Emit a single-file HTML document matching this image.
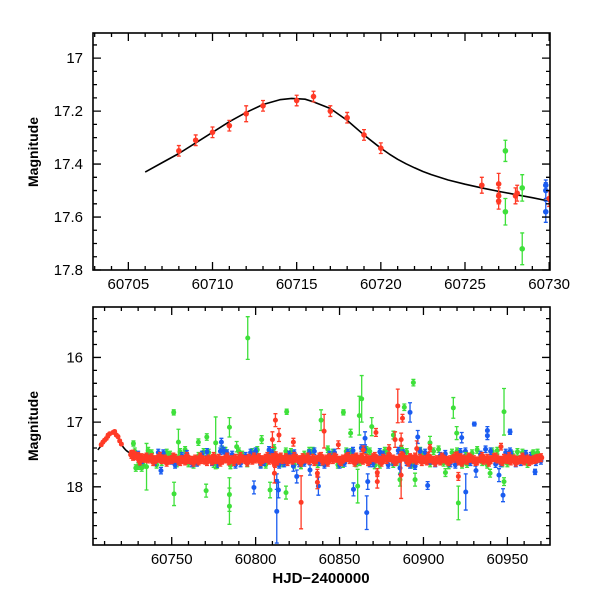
<!DOCTYPE html>
<html><head><meta charset="utf-8"><style>
html,body{margin:0;padding:0;background:#fff;}
svg text{font-family:"Liberation Sans",sans-serif;}
</style></head><body>
<svg id="chart" width="600" height="600" viewBox="0 0 600 600" xmlns="http://www.w3.org/2000/svg">
<rect width="600" height="600" fill="#fff"/>
</svg>
<script>
// ---------- data ----------
const topXTicks = [60705,60710,60715,60720,60725,60730];
const topYTicks = [17,17.2,17.4,17.6,17.8];
const topYTickLabels = ["17","17.2","17.4","17.6","17.8"];
const botXTicks = [60750,60800,60850,60900,60950];
const botYTicks = [16,17,18];
const botYTickLabels = ["16","17","18"];

const modelDays = [60706,60707,60708,60709,60710,60711,60712,60713,60714,60714.7,60715.5,60716,60717,60718,60719,60720,60720.5,60721,60721.5,60722,60722.5,60723,60724,60725,60726,60727,60728,60729,60730];
const modelMags = [17.43,17.395,17.36,17.32,17.28,17.24,17.205,17.175,17.157,17.152,17.155,17.165,17.19,17.235,17.29,17.34,17.362,17.382,17.399,17.414,17.428,17.44,17.46,17.476,17.49,17.503,17.515,17.527,17.54];

const redEarlyDays = [60708,60709,60710,60711,60712,60713,60715,60716,60717,60718,60719,60720,60726,60727,60727,60727,60728,60728.1,60730];
const redEarlyMags = [17.35,17.31,17.28,17.255,17.21,17.18,17.16,17.145,17.20,17.225,17.29,17.34,17.48,17.475,17.52,17.54,17.52,17.51,17.53];
const redEarlyErrs = [0.02,0.02,0.02,0.02,0.03,0.02,0.02,0.02,0.02,0.02,0.02,0.02,0.03,0.04,0.03,0.03,0.03,0.03,0.03];
const greenEarlyDays = [60727.4,60727.4,60728.4,60728.4];
const greenEarlyMags = [17.35,17.58,17.49,17.72];
const greenEarlyErrs = [0.04,0.05,0.05,0.06];
const blueEarlyDays = [60729.8,60729.8,60729.8];
const blueEarlyMags = [17.48,17.50,17.58];
const blueEarlyErrs = [0.02,0.03,0.04];

const redBandDays = [60726,60728,60730,60732,60734,60736,60738,60740,60742,60744,60746,60748,60750,60752,60754,60756,60758,60760,60762,60764,60766,60768,60770,60772,60774,60776,60778,60780,60782,60784,60786,60788,60790,60792,60794,60796,60798,60800,60802,60804,60806,60808,60810,60811,60812,60813,60814,60816,60818,60820,60822,60824,60826,60828,60830,60832,60834,60836,60838,60840,60842,60844,60846,60848,60850,60852,60854,60856,60858,60860,60862,60864,60866,60868,60870,60872,60874,60876,60878,60880,60882,60884,60886,60888,60890,60892,60894,60896,60898,60900,60902,60904,60906,60908,60910,60912,60914,60916,60918,60920,60921,60922,60924,60926,60928,60930,60932,60934,60936,60938,60940,60942,60944,60946,60948,60950,60952,60954,60956,60958,60960,60962,60964,60966,60968,60970];
const redBandMags = [17.50,17.52,17.53,17.55,17.56,17.57,17.55,17.58,17.56,17.58,17.57,17.59,17.58,17.56,17.59,17.58,17.60,17.58,17.59,17.57,17.60,17.58,17.59,17.57,17.60,17.58,17.56,17.59,17.57,17.60,17.58,17.56,17.59,17.57,17.58,17.56,17.59,17.57,17.55,17.58,17.56,17.59,17.55,17.62,17.52,17.60,17.56,17.58,17.55,17.57,17.59,17.56,17.58,17.55,17.57,17.59,17.56,17.58,17.54,17.60,17.57,17.55,17.58,17.56,17.59,17.57,17.55,17.58,17.56,17.54,17.57,17.59,17.56,17.58,17.55,17.57,17.59,17.56,17.58,17.55,17.57,17.59,17.56,17.54,17.58,17.55,17.57,17.59,17.56,17.58,17.60,17.57,17.59,17.58,17.60,17.57,17.59,17.58,17.56,17.52,17.60,17.55,17.57,17.59,17.56,17.58,17.60,17.57,17.59,17.56,17.58,17.55,17.57,17.59,17.56,17.58,17.60,17.57,17.59,17.58,17.60,17.57,17.59,17.58,17.56,17.55];
const redBand2Days = [60727,60731,60735,60739,60743,60747,60751,60755,60759,60763,60767,60771,60775,60779,60783,60787,60791,60795,60799,60803,60807,60811.5,60815,60819,60823,60827,60831,60835,60839,60843,60847,60851,60855,60859,60863,60867,60871,60875,60879,60883,60887,60891,60895,60899,60903,60907,60911,60915,60919,60923,60927,60931,60935,60939,60943,60947,60951,60955,60959,60963,60967];
const redBand2Mags = [17.53,17.60,17.54,17.61,17.53,17.62,17.54,17.61,17.53,17.62,17.54,17.61,17.53,17.62,17.54,17.61,17.53,17.62,17.54,17.61,17.53,17.64,17.54,17.61,17.53,17.62,17.54,17.61,17.53,17.62,17.54,17.61,17.53,17.62,17.54,17.61,17.53,17.62,17.54,17.61,17.52,17.62,17.54,17.61,17.53,17.62,17.54,17.61,17.53,17.62,17.54,17.61,17.53,17.62,17.54,17.61,17.53,17.62,17.54,17.61,17.57];

const blueBandDays = [60730,60735,60740,60745,60750,60756,60762,60768,60774,60779,60783,60788,60794,60800,60805,60810,60814,60820,60826,60832,60838,60844,60850,60855,60860,60865,60870,60876,60882,60888,60892,60898,60904,60910,60916,60922,60928,60934,60940,60946,60952,60958,60964,60970,60732,60742,60752,60759,60765,60771,60777,60781,60786,60791,60797,60803,60808,60817,60823,60829,60835,60841,60847,60853,60858,60863,60868,60874,60879,60885,60890,60895,60901,60907,60913,60919,60925,60931,60937,60943,60949,60955,60961,60967];
const blueBandMags = [17.50,17.55,17.62,17.48,17.60,17.52,17.64,17.50,17.62,17.45,17.48,17.66,17.52,17.45,17.62,17.48,17.66,17.50,17.64,17.48,17.62,17.50,17.66,17.47,17.60,17.42,17.64,17.50,17.62,17.48,17.66,17.45,17.60,17.52,17.64,17.46,17.62,17.50,17.45,17.64,17.48,17.62,17.52,17.60,17.63,17.47,17.66,17.49,17.63,17.46,17.65,17.44,17.50,17.64,17.47,17.66,17.43,17.64,17.48,17.63,17.45,17.66,17.47,17.63,17.44,17.40,17.64,17.46,17.66,17.44,17.62,17.68,17.47,17.64,17.49,17.66,17.45,17.63,17.42,17.65,17.47,17.64,17.49,17.62];

const greenBandDays = [60728,60733,60738,60744,60749,60755,60760,60766,60772,60777,60782,60787,60792,60798,60803,60808,60813,60818,60823,60829,60834,60840,60846,60852,60857,60862,60868,60874,60879,60884,60890,60895,60900,60906,60912,60917,60923,60929,60935,60941,60947,60953,60959,60965,60730,60736,60741,60747,60753,60758,60763,60769,60775,60780,60785,60790,60795,60801,60806,60811,60816,60821,60827,60832,60837,60843,60849,60854,60860,60866,60871,60877,60882,60887,60893,60898,60904,60909,60915,60920,60926,60932,60938,60944,60950,60956,60962,60968];
const greenBandMags = [17.45,17.66,17.48,17.62,17.50,17.46,17.64,17.52,17.47,17.66,17.44,17.62,17.50,17.46,17.65,17.48,17.63,17.45,17.66,17.50,17.44,17.62,17.47,17.65,17.46,17.62,17.45,17.66,17.48,17.62,17.46,17.64,17.50,17.45,17.63,17.47,17.66,17.48,17.62,17.45,17.64,17.50,17.47,17.50,17.68,17.44,17.66,17.47,17.64,17.43,17.66,17.46,17.65,17.42,17.67,17.45,17.64,17.43,17.66,17.40,17.64,17.46,17.67,17.44,17.65,17.42,17.66,17.45,17.64,17.43,17.67,17.44,17.65,17.41,17.66,17.44,17.64,17.42,17.67,17.45,17.65,17.43,17.66,17.44,17.64,17.46,17.65,17.47];

const greenOutDays = [60795.3,60751.2,60751.4,60770.5,60784.4,60784.4,60784.4,60770.9,60765.9,60727.2,60728.6,60732.1,60735,60776.2,60818.5,60839,60852.3,60863.2,60861.8,60856.6,60888.6,60894,60917.8,60919.8,60920.8,60948,60948,60818.1,60808.6,60860.8,60886,60895,60913.1,60903.9,60882.1,60869.2,60803.6,60788.7,60754,60925.3,60965.5,60939.7];
const greenOutMags = [15.70,16.85,18.11,18.06,17.08,18.12,18.30,17.23,17.31,17.33,17.71,17.71,17.69,17.32,16.84,16.97,16.85,16.64,16.90,17.17,16.77,16.39,16.78,17.17,18.25,16.84,17.92,18.09,18.05,17.99,17.89,17.89,17.78,17.32,17.20,17.07,17.27,17.38,17.31,17.53,17.48,17.79];
const greenOutErrs = [0.33,0.04,0.18,0.1,0.15,0.26,0.28,0.05,0.05,0.04,0.05,0.05,0.36,0.4,0.04,0.16,0.04,0.36,0.3,0.06,0.05,0.05,0.16,0.1,0.26,0.36,0.06,0.1,0.12,0.26,0.1,0.1,0.06,0.1,0.06,0.14,0.06,0.08,0.2,0.06,0.05,0.06];

const blueOutDays = [60812.6,60812.6,60813.6,60799,60743.6,60779.6,60824.5,60832.4,60837.4,60858.3,60866.2,60865.2,60866.8,60892,60896.6,60902.5,60925.2,60931.3,60930.3,60938.1,60938.1,60945,60947.4,60951.6,60966.5,60951.6,60922.8,60886,60822.5];
const blueOutMags = [18.38,17.92,18.05,18.01,17.75,17.31,17.84,17.74,17.99,18.04,18.40,17.25,17.92,16.85,17.23,17.98,18.08,17.75,17.03,17.13,17.21,17.82,18.13,17.15,17.77,17.45,17.24,17.71,17.68];
const blueOutErrs = [0.49,0.12,0.12,0.1,0.05,0.06,0.1,0.08,0.14,0.1,0.26,0.1,0.12,0.15,0.1,0.06,0.28,0.1,0.03,0.06,0.06,0.1,0.1,0.04,0.04,0.05,0.08,0.1,0.08];

const redOutDays = [60884.7,60883.1,60886.7,60887.5,60871.7,60872.5,60872.5,60886.7,60879.5,60840.8,60836.8,60836.8,60827.1,60811.8,60813.9,60810,60811.2,60822.5,60896,60920.8,60946.2,60903.9,60849.3,60864.2];
const redOutMags = [16.75,17.27,17.27,16.94,17.16,17.78,17.92,17.82,17.41,17.14,17.79,17.93,18.24,16.97,17.20,17.27,17.79,17.31,17.41,17.84,17.38,17.40,17.35,17.43];
const redOutErrs = [0.26,0.12,0.1,0.06,0.06,0.06,0.1,0.36,0.06,0.26,0.06,0.1,0.41,0.1,0.1,0.12,0.15,0.06,0.12,0.06,0.05,0.05,0.06,0.06];

// ---------- rendering ----------
const NS = "http://www.w3.org/2000/svg";
const svg = document.getElementById('chart');
const RED = "#ff3a26", GREEN = "#3ee03a", BLUE = "#1a5cf0";
function mk(tag, attrs, parent){ const e=document.createElementNS(NS,tag); for(const k in attrs) e.setAttribute(k,attrs[k]); (parent||svg).appendChild(e); return e; }

function panel(name, L, R, T, B, x0, x1, y0, y1){
  const g = mk('g',{});
  
  
  const sx = v => L + (v - x0) / (x1 - x0) * (R - L);
  const sy = v => T + (v - y0) / (y1 - y0) * (B - T);
  return {g, sx, sy, L, R, T, B};
}

function axes(p, xMajor, xMinorStep, xMin, xMax, yMajor, yMinorStep, yMin, yMax, yLabels, xLabels){
  const ag = mk('g',{}, p.g);
  
  
  let d = '';
  const start = Math.ceil(xMin / xMinorStep) * xMinorStep;
  for (let v = start; v <= xMax + 1e-9; v += xMinorStep){
    const x = p.sx(v);
    const major = xMajor.some(m => Math.abs(m - v) < 1e-6);
    const len = major ? 8 : 4;
    d += `M${x} ${p.B}v${-len}M${x} ${p.T}v${len}`;
  }
  const ys = Math.ceil(yMin / yMinorStep) * yMinorStep;
  for (let v = ys; v <= yMax + 1e-9; v += yMinorStep){
    const y = p.sy(v);
    const major = yMajor.some(m => Math.abs(m - v) < 1e-6);
    const len = major ? 8 : 4;
    d += `M${p.L} ${y}h${len}M${p.R} ${y}h${-len}`;
  }
  const ticks = mk('path',{d:d, stroke:'#000','stroke-width':1.3, fill:'none'}, ag);
  
  
  xMajor.forEach((v,i) => {
    const t = mk('text',{x:p.sx(v), y:p.B+19, 'text-anchor':'middle','font-size':15, fill:'#000'}, ag);
    t.textContent = xLabels[i];
    
    
  });
  yMajor.forEach((v,i) => {
    const t = mk('text',{x:p.L-10, y:p.sy(v)+5, 'text-anchor':'end','font-size':15, fill:'#000'}, ag);
    t.textContent = yLabels[i];
    
    
  });
}

function frame(p){
  const f = mk('rect',{x:p.L, y:p.T, width:p.R-p.L, height:p.B-p.T, fill:'none', stroke:'#000','stroke-width':1.6}, p.g);
  
  
}

function series(p, name, days, mags, errs, color, r, clip){
  const g = mk('g',{'clip-path':`url(#${clip})`}, p.g);
  
  
  days.forEach((dv,i) => {
    const x = p.sx(dv), y = p.sy(mags[i]);
    const e = errs[i];
    const y1 = p.sy(mags[i]-e), y2 = p.sy(mags[i]+e);
    const bar = mk('path',{d:`M${x} ${y1}V${y2}M${x-2} ${y1}h4M${x-2} ${y2}h4`, stroke:color,'stroke-width':1.3, fill:'none'}, g);
    
    
    const c = mk('circle',{cx:x, cy:y, r:r, fill:color}, g);
    
    
  });
}

function model(p, clip){
  let d = '';
  modelDays.forEach((v,i) => { d += (i?'L':'M') + p.sx(v).toFixed(2) + ' ' + p.sy(modelMags[i]).toFixed(2); });
  const path = mk('path',{d:d, stroke:'#000','stroke-width':1.6, fill:'none','stroke-linejoin':'round','clip-path':`url(#${clip})`}, p.g);
  
  
}

const defs = mk('defs',{});
function clipRect(id,p){ const c=mk('clipPath',{id:id},defs); mk('rect',{x:p.L,y:p.T,width:p.R-p.L,height:p.B-p.T},c); }

// top panel
const tp = panel('top-panel', 93, 550, 33, 270, 60702.9, 60730.05, 16.905, 17.8);
clipRect('clipTop', tp);
model(tp, 'clipTop');
series(tp,'green-series-top',greenEarlyDays,greenEarlyMags,greenEarlyErrs,GREEN,2.8,'clipTop');
series(tp,'blue-series-top',blueEarlyDays,blueEarlyMags,blueEarlyErrs,BLUE,2.8,'clipTop');
series(tp,'red-series-top',redEarlyDays,redEarlyMags,redEarlyErrs,RED,2.8,'clipTop');
axes(tp, topXTicks, 1, 60702.9, 60730.05, topYTicks, 0.05, 16.905, 17.8, topYTickLabels, topXTicks.map(String));
frame(tp);

// bottom panel
const bp = panel('bottom-panel', 93, 550, 307, 545, 60703.1, 60975.4, 15.22, 18.9);
clipRect('clipBot', bp);
model(bp, 'clipBot');
series(bp,'green-series-band',greenBandDays,greenBandMags,greenBandDays.map(()=>0.05),GREEN,2.5,'clipBot');
series(bp,'blue-series-band',blueBandDays,blueBandMags,blueBandDays.map(()=>0.05),BLUE,2.5,'clipBot');
series(bp,'green-series-outliers',greenOutDays,greenOutMags,greenOutErrs,GREEN,2.5,'clipBot');
series(bp,'blue-series-outliers',blueOutDays,blueOutMags,blueOutErrs,BLUE,2.5,'clipBot');
series(bp,'red-series-outliers',redOutDays,redOutMags,redOutErrs,RED,2.5,'clipBot');
series(bp,'red-series-band',redBandDays,redBandMags,redBandDays.map(()=>0.06),RED,3.3,'clipBot');
series(bp,'red-series-band-2',redBand2Days,redBand2Mags,redBand2Days.map(()=>0.06),RED,3.3,'clipBot');
series(bp,'red-series-early',redEarlyDays,redEarlyMags,redEarlyErrs,RED,2.5,'clipBot');
axes(bp, botXTicks, 10, 60703.1, 60975.4, botYTicks, 0.2, 15.22, 18.9, botYTickLabels, botXTicks.map(String));
frame(bp);

// axis titles
const yt1 = mk('text',{x:0,y:0,'text-anchor':'middle','font-size':14,'font-weight':'bold',transform:'translate(38,152) rotate(-90)'});
yt1.textContent = 'Magnitude';


const yt2 = mk('text',{x:0,y:0,'text-anchor':'middle','font-size':14,'font-weight':'bold',transform:'translate(38,426) rotate(-90)'});
yt2.textContent = 'Magnitude';


const xt = mk('text',{x:321,y:583,'text-anchor':'middle','font-size':15,'font-weight':'bold'});
xt.textContent = 'HJD\u22122400000';


</script>
</body></html>
